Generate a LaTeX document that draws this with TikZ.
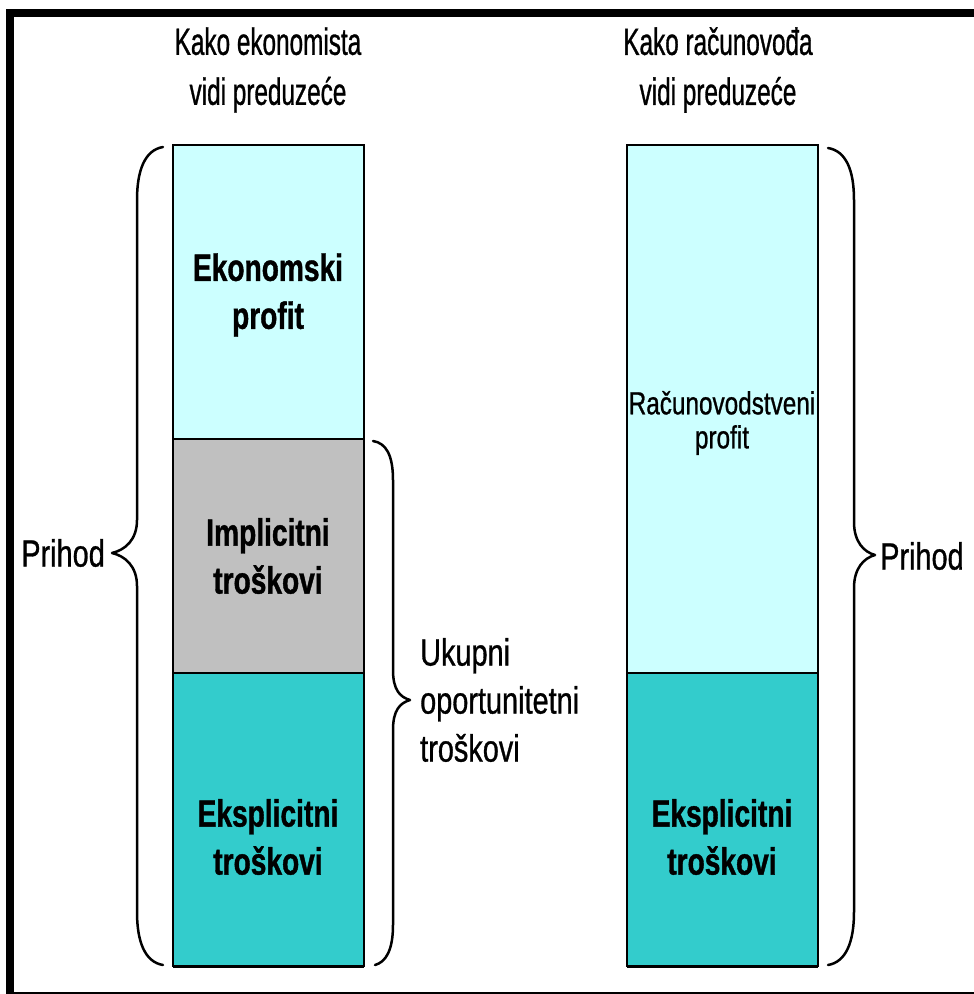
\documentclass[tikz,border=0pt]{standalone}
\usepackage{fontspec}
\setmainfont{Liberation Sans}
\newfontfamily\titfont[FakeStretch=0.64,FakeBold=0.8]{Liberation Sans}
\newfontfamily\labfont[FakeStretch=0.76,FakeBold=0.8]{Liberation Sans}
\newfontfamily\boxfont[FakeStretch=0.74,FakeBold=1]{Liberation Sans}
\definecolor{lcyan}{HTML}{CCFFFF}
\definecolor{lgray}{HTML}{C0C0C0}
\definecolor{teal2}{HTML}{33CCCC}
\tikzset{
  title/.style={align=center, inner sep=0pt, font=\titfont\fontsize{38}{50}\selectfont},
  lab/.style={inner sep=0pt, font=\labfont\fontsize{38}{48}\selectfont},
  boxtxt/.style={align=center, inner sep=0pt, font=\boxfont\bfseries\fontsize{38}{48}\selectfont},
  smalltxt/.style={align=center, inner sep=0pt, font=\labfont\fontsize{32}{34}\selectfont},
  bar/.style={draw=black, line width=2pt},
  brace/.style={draw=black, line width=2.5pt, line cap=round, line join=round}
}
\begin{document}
\begin{tikzpicture}[x=1pt,y=-1pt]
\useasboundingbox (0,0) rectangle (974,994);
% frame
\fill[black] (6,9) rectangle (974,17);
\fill[black] (6,9) rectangle (14,994);
\draw[line width=2pt] (6,993) -- (974,993);

% titles
\node[title] (t1) at (268,70) {Kako ekonomista\\vidi preduzeće};
\node[title] (t2) at (718,70) {Kako računovođa\\vidi preduzeće};

% left bar
\filldraw[bar, fill=lcyan] (173,145) rectangle (364,439);
\filldraw[bar, fill=lgray] (173,439) rectangle (364,673);
\filldraw[bar, fill=teal2] (173,673) rectangle (364,966);
\draw[line width=3pt] (173,966) -- (364,966);

% right bar
\filldraw[bar, fill=lcyan] (627,145) rectangle (818,673);
\filldraw[bar, fill=teal2] (627,673) rectangle (818,966);
\draw[line width=3pt] (627,966) -- (818,966);

% box texts
\node[boxtxt] (ep) at (268,295) {Ekonomski\\profit};
\node[boxtxt] (it) at (268,556) {Implicitni\\troškovi};
\node[boxtxt] (et1) at (268,837) {Eksplicitni\\troškovi};
\node[boxtxt] (et2) at (722,837) {Eksplicitni\\troškovi};
\node[smalltxt] (rp) at (722,423) {Računovodstveni\\profit};

% braces
\coordinate (lb1) at (163,147);
\coordinate (lbt) at (112,553);
\coordinate (lb2) at (163,965);
\draw[brace] (lb1) .. controls (145,150) and (137,170) .. (137,200) -- (137,520)
  .. controls (137,540) and (125,550) .. (lbt)
  .. controls (125,556) and (137,566) .. (137,586) -- (137,912)
  .. controls (137,942) and (145,962) .. (lb2);

\coordinate (ub1) at (373,441);
\coordinate (ubt) at (410,700);
\coordinate (ub2) at (375,965);
\draw[brace] (ub1) .. controls (386,443) and (393,455) .. (393,480) -- (393,670)
  .. controls (393,690) and (400,697) .. (ubt)
  .. controls (400,703) and (393,710) .. (393,730) -- (393,925)
  .. controls (393,950) and (386,962) .. (ub2);

\coordinate (rb1) at (828,148);
\coordinate (rbt) at (875,555);
\coordinate (rb2) at (828,965);
\draw[brace] (rb1) .. controls (846,151) and (854,170) .. (854,200) -- (854,522)
  .. controls (854,542) and (864,552) .. (rbt)
  .. controls (864,558) and (854,568) .. (854,588) -- (854,912)
  .. controls (854,942) and (846,962) .. (rb2);

% labels
\node[lab, anchor=east] (p1) at (105,553) {Prihod};
\node[lab, anchor=west] (p2) at (880,556) {Prihod};
\node[lab, anchor=west, align=left] (uk) at (420,700) {Ukupni\\oportunitetni\\troškovi};
\end{tikzpicture}
\end{document}
